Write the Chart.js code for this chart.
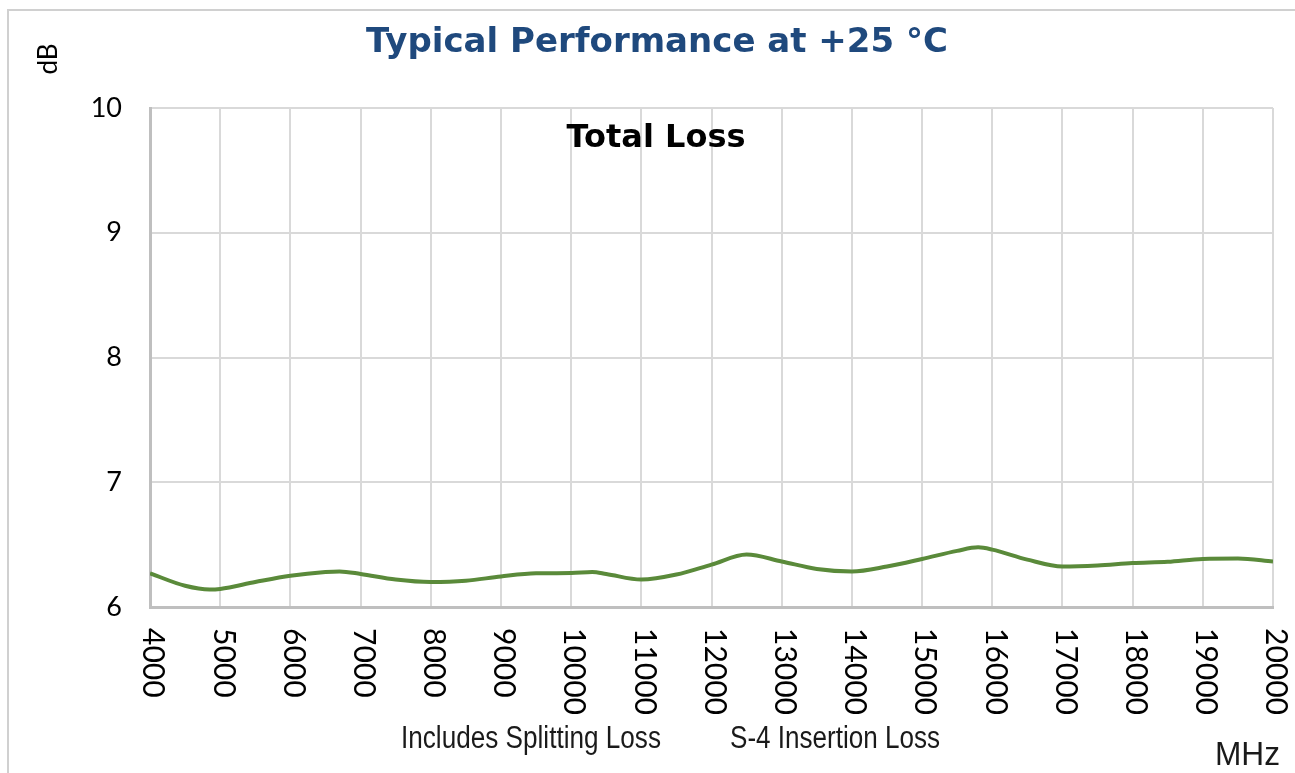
<!DOCTYPE html>
<html>
<head>
<meta charset="utf-8">
<script src="https://cdn.jsdelivr.net/npm/chart.js@4.4.1/dist/chart.umd.min.js"></script>
<style>
  html, body { margin: 0; padding: 0; background: #fff; }
  #wrap { width: 1295px; height: 773px; }
</style>
</head>
<body>
<div id="wrap"><canvas id="lossChart" width="1295" height="773"></canvas></div>
<script>
// values
const freqMHz = [4000, 4500, 4850, 5000, 5500, 6000, 6500, 6700, 7000, 7500, 8000, 8500,
  9000, 9500, 10000, 10300, 10500, 11000, 11500, 12000, 12500, 13000, 13500, 14000,
  14500, 15000, 15500, 15800, 16000, 16500, 17000, 17500, 18000, 18500, 19000, 19500, 20000];
const totalLossDb = [6.27, 6.17, 6.14, 6.145, 6.20, 6.25, 6.28, 6.285, 6.265, 6.22, 6.20, 6.21,
  6.245, 6.27, 6.272, 6.28, 6.265, 6.22, 6.26, 6.34, 6.42, 6.365, 6.305, 6.285,
  6.325, 6.385, 6.45, 6.478, 6.46, 6.38, 6.325, 6.333, 6.352, 6.362, 6.385, 6.388, 6.365];
const xTicks = [4000, 5000, 6000, 7000, 8000, 9000, 10000, 11000, 12000, 13000, 14000,
  15000, 16000, 17000, 18000, 19000, 20000];
const yTicks = [6, 7, 8, 9, 10];

const chartTitle = 'Typical Performance at +25 °C';
const plotTitle = 'Total Loss';
const yTitle = 'dB';
const xTitle = 'MHz';
const notes = ['Includes Splitting Loss', 'S-4 Insertion Loss'];

// extra text + rotated x labels
const decorations = {
  id: 'decorations',
  beforeDraw(chart) {
    const ctx = chart.ctx;
    ctx.save();
    ctx.fillStyle = '#fff';
    ctx.fillRect(0, 0, chart.width, chart.height);
    ctx.strokeStyle = '#d0d0d0';
    ctx.lineWidth = 2;
    ctx.beginPath();
    ctx.moveTo(8, 773);
    ctx.lineTo(8, 10);
    ctx.lineTo(1295, 10);
    ctx.stroke();
    ctx.restore();
  },
  afterDraw(chart) {
    const ctx = chart.ctx;
    const x = chart.scales.x;
    const area = chart.chartArea;
    ctx.save();

    // chart title
    ctx.fillStyle = '#1f497d';
    ctx.font = 'bold 34px "DejaVu Sans"';
    ctx.textAlign = 'center';
    ctx.textBaseline = 'alphabetic';
    ctx.fillText(chartTitle, 657, 52);

    // series title inside plot
    ctx.fillStyle = '#000';
    ctx.font = 'bold 32px "DejaVu Sans"';
    ctx.fillText(plotTitle, 656, 147);

    // y title, rotated
    ctx.save();
    ctx.translate(57, 59);
    ctx.rotate(-Math.PI / 2);
    ctx.font = '26px Lato';
    ctx.textAlign = 'center';
    ctx.fillText(yTitle, 0, 0);
    ctx.restore();

    // x tick labels, rotated clockwise
    ctx.font = '30px Lato';
    ctx.textAlign = 'left';
    ctx.textBaseline = 'middle';
    xTicks.forEach(v => {
      const px = x.getPixelForValue(v);
      ctx.save();
      ctx.translate(px + 3, area.bottom + 21);
      ctx.rotate(Math.PI / 2);
      ctx.fillText(String(v), 0, 0);
      ctx.restore();
    });

    // condensed notes
    ctx.textBaseline = 'alphabetic';
    ctx.font = '31px "Liberation Sans"';
    const drawNarrow = (txt, left, base, width) => {
      const w = ctx.measureText(txt).width;
      ctx.save();
      ctx.translate(left, base);
      ctx.scale(width / w, 1);
      ctx.fillText(txt, 0, 0);
      ctx.restore();
    };
    ctx.fillStyle = '#1a1a1a';
    drawNarrow(notes[0], 401, 748, 260);
    drawNarrow(notes[1], 730, 748, 210);
    ctx.font = '34px "Liberation Sans"';
    drawNarrow(xTitle, 1215, 765, 65);

    ctx.restore();
  }
};

new Chart(document.getElementById('lossChart'), {
  type: 'line',
  data: {
    datasets: [{
      label: plotTitle,
      data: freqMHz.map((f, i) => ({ x: f, y: totalLossDb[i] })),
      borderColor: '#5a8a3a',
      borderWidth: 4,
      pointRadius: 0,
      cubicInterpolationMode: 'monotone',
      fill: false
    }]
  },
  options: {
    responsive: false,
    animation: false,
    layout: { padding: { left: 90, right: 22, top: 108, bottom: 0 } },
    plugins: { legend: { display: false }, title: { display: false }, tooltip: { enabled: false } },
    scales: {
      x: {
        type: 'linear',
        min: 4000,
        max: 20000,
        afterBuildTicks: s => { s.ticks = xTicks.map(v => ({ value: v })); },
        afterFit: s => { s.height = 166; },
        ticks: { display: false },
        grid: { color: '#d9d9d9', lineWidth: 2, drawTicks: false },
        border: { color: '#bfbfbf', width: 3 }
      },
      y: {
        min: 6,
        max: 10,
        afterBuildTicks: s => { s.ticks = yTicks.map(v => ({ value: v })); },
        afterFit: s => { s.width = 60; },
        ticks: { color: '#000', font: { family: 'Lato', size: 27 }, padding: 28 },
        grid: { color: '#d9d9d9', lineWidth: 2, drawTicks: false },
        border: { color: '#bfbfbf', width: 3 }
      }
    }
  },
  plugins: [decorations]
});
</script>
</body>
</html>
